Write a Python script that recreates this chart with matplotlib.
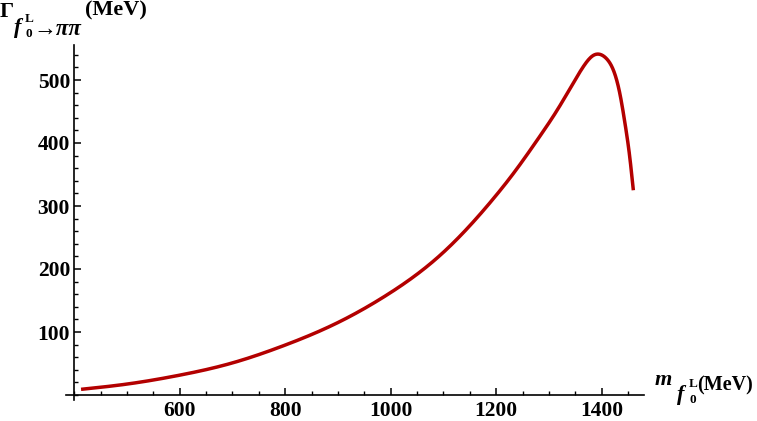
import matplotlib
matplotlib.use("Agg")
import matplotlib.pyplot as plt
from matplotlib.ticker import MultipleLocator
import numpy as np

# 读取自图片的曲线数据 (MeV)
mass = [413, 497, 597, 696, 796, 895, 995, 1094, 1194, 1232, 1283, 1314,
        1346, 1365, 1384, 1395, 1409, 1422, 1435, 1444, 1453, 1460]
width = [9, 17, 31, 50, 78, 113, 160, 222, 311, 351, 411, 450,
         495, 521, 539, 541, 534, 516, 476, 432, 379, 325]

x_ticks = [600, 800, 1000, 1200, 1400]
y_ticks = [100, 200, 300, 400, 500]


def spline(x, y, xs):
    """自然三次样条, 只用来把读出的点连成光滑曲线"""
    x, y = np.asarray(x, float), np.asarray(y, float)
    n = len(x)
    h = np.diff(x)
    d = np.diff(y) / h
    A = np.zeros((n, n))
    b = np.zeros(n)
    A[0, 0] = A[-1, -1] = 1
    for k in range(1, n - 1):
        A[k, k - 1] = h[k - 1]
        A[k, k] = 2 * (h[k - 1] + h[k])
        A[k, k + 1] = h[k]
        b[k] = 6 * (d[k] - d[k - 1])
    M = np.linalg.solve(A, b)
    i = np.clip(np.searchsorted(x, xs) - 1, 0, n - 2)
    hi = h[i]
    a = x[i + 1] - xs
    c = xs - x[i]
    return (M[i] * a**3 / (6 * hi) + M[i + 1] * c**3 / (6 * hi)
            + (y[i] / hi - M[i] * hi / 6) * a
            + (y[i + 1] / hi - M[i + 1] * hi / 6) * c)


plt.rcParams["font.family"] = ["Liberation Serif", "DejaVu Serif"]
plt.rcParams["font.weight"] = "bold"

W, H = 757, 421
fig = plt.figure(figsize=(W / 100, H / 100), dpi=100)

# 坐标轴在画布上的像素位置
x0, x1 = 385, 1480
y0, y1 = -8, 555
sx, sy = 0.5275, 0.63
px_left = 74.2 - (400 - x0) * sx
px_right = 74.2 + (x1 - 400) * sx
px_bottom = 395 - y0 * sy
px_top = 395 - y1 * sy
ax = fig.add_axes([px_left / W, 1 - px_bottom / H,
                   (px_right - px_left) / W, (px_bottom - px_top) / H])

xs = np.linspace(mass[0], mass[-1], 800)
ys = spline(mass, width, xs)
ax.plot(xs, ys, color="#b30000", linewidth=2.5, solid_capstyle="butt")

ax.set_xlim(x0, x1)
ax.set_ylim(y0, y1)

for s in ["top", "right"]:
    ax.spines[s].set_visible(False)
ax.spines["left"].set_position(("data", 400))
ax.spines["bottom"].set_position(("data", 0))
ax.spines["left"].set_linewidth(1.2)
ax.spines["bottom"].set_linewidth(1.2)

ax.set_xticks(x_ticks)
ax.set_yticks(y_ticks)
ax.xaxis.set_minor_locator(MultipleLocator(50))
ax.yaxis.set_minor_locator(MultipleLocator(20))
ax.tick_params(which="major", direction="in", length=5, width=1.1,
               labelsize=15.5, pad=3)
ax.tick_params(axis="x", which="major", pad=4)
ax.tick_params(which="minor", direction="in", length=2.8, width=1.0)
for lab in ax.get_xticklabels() + ax.get_yticklabels():
    lab.set_fontweight("bold")


def put(px, py, s, size, style="normal"):
    # 按像素位置 (左, 基线) 放置文字
    fig.text(px / W, 1 - py / H, s, fontsize=size, fontstyle=style,
             fontweight="bold", ha="left", va="baseline")


# y 轴标签
put(0, 17, "Γ", 16)
put(14, 33, "f", 16, "italic")
put(25, 22, "L", 9.5)
put(25, 37, "0", 9.5)
put(33, 35, "→ππ", 16.5, "italic")
put(85, 15, "(MeV)", 16)

# x 轴标签
put(655, 385, "m", 16, "italic")
put(677, 400, "f", 16, "italic")
put(689, 387, "L", 9.5)
put(689, 403, "0", 9.5)
put(697, 390, "(MeV)", 14.5)

fig.savefig("out.png", dpi=100)
